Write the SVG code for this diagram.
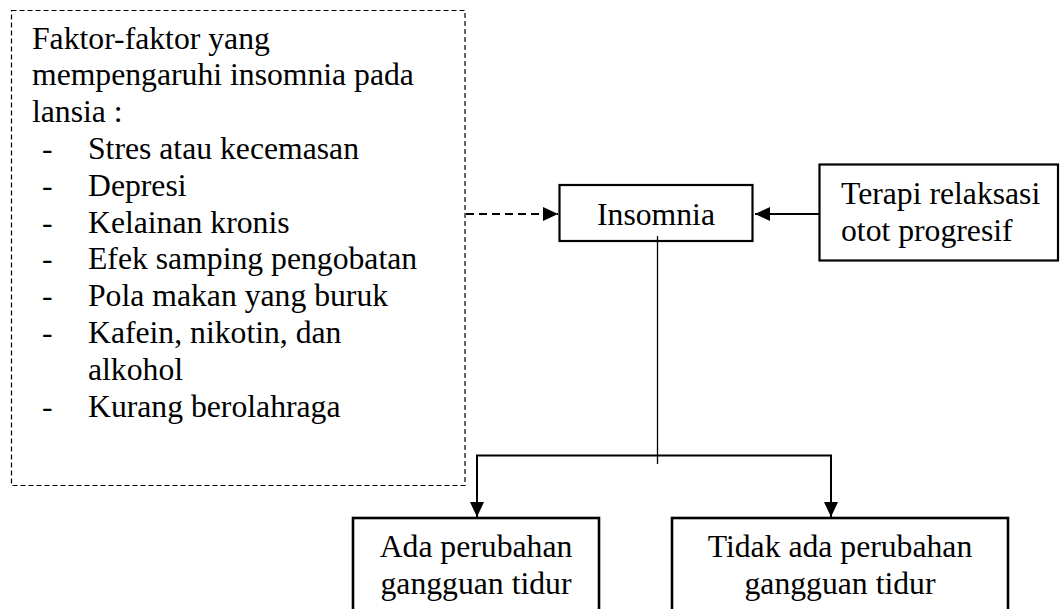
<svg xmlns="http://www.w3.org/2000/svg" width="1060" height="609" viewBox="0 0 1060 609">
<style>
text{font-family:"Liberation Serif","Times New Roman","DejaVu Serif",serif;font-size:31.7px;fill:#000}
.box{fill:#fff;stroke:#000;stroke-width:2.2}
.bbox{fill:#fff;stroke:#000;stroke-width:2.6}
.dbox{fill:none;stroke:#000;stroke-width:1.2;stroke-dasharray:5 3}
.c{text-anchor:middle}
.ln{fill:none;stroke:#000;stroke-width:2}
</style>
<defs>
<marker id="ah" markerWidth="15" markerHeight="14" refX="15" refY="7" orient="auto" markerUnits="userSpaceOnUse">
<path d="M0,0 L15,7 L0,14 Z" fill="#000"/>
</marker>
</defs>
<rect width="1060" height="609" fill="#fff"/>
<g id="factors">
<rect class="dbox" x="11.5" y="10.5" width="453.5" height="475"/>
<text x="32" y="48.5">Faktor-faktor yang</text>
<text x="32" y="85.3">mempengaruhi insomnia pada</text>
<text x="32" y="122">lansia :</text>
<text x="42" y="159">-</text><text x="88" y="159">Stres atau kecemasan</text>
<text x="42" y="195.8">-</text><text x="88" y="195.8">Depresi</text>
<text x="42" y="232.6">-</text><text x="88" y="232.6">Kelainan kronis</text>
<text x="42" y="269.4">-</text><text x="88" y="269.4">Efek samping pengobatan</text>
<text x="42" y="306.2">-</text><text x="88" y="306.2">Pola makan yang buruk</text>
<text x="42" y="343">-</text><text x="88" y="343">Kafein, nikotin, dan</text>
<text x="88" y="379.8">alkohol</text>
<text x="42" y="416.6">-</text><text x="88" y="416.6">Kurang berolahraga</text>
</g>
<g id="insomnia">
<rect class="box" x="559.5" y="185" width="193" height="56"/>
<text class="c" x="656" y="225">Insomnia</text>
</g>
<g id="terapi">
<rect class="box" x="819.5" y="164.5" width="238.5" height="96"/>
<text x="841" y="204">Terapi relaksasi</text>
<text x="841" y="240.5">otot progresif</text>
</g>
<g id="ada">
<rect class="bbox" x="353" y="518" width="246" height="100"/>
<text class="c" x="476" y="557">Ada perubahan</text>
<text class="c" x="476" y="594">gangguan tidur</text>
</g>
<g id="tidak">
<rect class="bbox" x="672" y="518" width="336" height="100"/>
<text class="c" x="840" y="557">Tidak ada perubahan</text>
<text class="c" x="840" y="594">gangguan tidur</text>
</g>
<g id="connectors">
<line x1="466" y1="214" x2="558" y2="214" stroke="#000" stroke-width="2" stroke-dasharray="8 5" marker-end="url(#ah)"/>
<line x1="819" y1="214" x2="755" y2="214" class="ln" marker-end="url(#ah)"/>
<line x1="657.5" y1="236" x2="657.5" y2="464" stroke="#000" stroke-width="1.3"/>
<path class="ln" d="M657.5,455.5 H477 V517" marker-end="url(#ah)"/>
<path class="ln" d="M657.5,455.5 H831 V517" marker-end="url(#ah)"/>
</g>
</svg>
